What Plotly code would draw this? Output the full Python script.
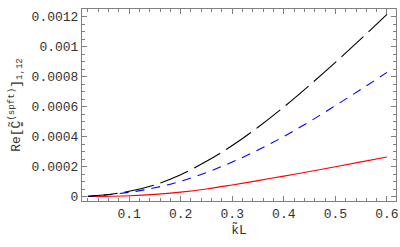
import plotly.graph_objects as go

kL = [0.02, 0.05, 0.1, 0.15, 0.2, 0.25, 0.3, 0.35, 0.4, 0.45, 0.5, 0.55, 0.6]
black_vals = [0.000002, 0.000010, 0.000035, 0.000078, 0.000145, 0.000235, 0.000340,
              0.000462, 0.000597, 0.000743, 0.000895, 0.001053, 0.001215]
blue_vals = [0.000002, 0.000009, 0.000028, 0.000058, 0.000102, 0.000160, 0.000230,
             0.000310, 0.000400, 0.000500, 0.000607, 0.000716, 0.000828]
red_vals = [0.0, 0.000001, 0.000005, 0.000014, 0.000029, 0.000050, 0.000077,
            0.000106, 0.000136, 0.000167, 0.000199, 0.000231, 0.000264]

x_ticks = [0.1, 0.2, 0.3, 0.4, 0.5, 0.6]
x_labels = ["0.1", "0.2", "0.3", "0.4", "0.5", "0.6"]
y_ticks = [0, 0.0002, 0.0004, 0.0006, 0.0008, 0.001, 0.0012]
y_labels = ["0", "0.0002", "0.0004", "0.0006", "0.0008", "0.001", "0.0012"]

fig = go.Figure()
fig.add_trace(go.Scatter(x=kL, y=red_vals, mode="lines", line=dict(color="#ff0000", width=1.1, shape="spline")))
fig.add_trace(go.Scatter(x=kL, y=blue_vals, mode="lines", line=dict(color="#0000ff", width=1.1, dash="9px,7px", shape="spline")))
fig.add_trace(go.Scatter(x=kL, y=black_vals, mode="lines", line=dict(color="#000000", width=1.1, dash="30px,7px", shape="spline")))

mono = "Liberation Mono"
font = dict(family=mono, size=13, color="#333")
axcol = "#808080"
fig.update_layout(
    width=400, height=247,
    margin=dict(l=82, r=4, t=9, b=46, autoexpand=False),
    paper_bgcolor="white", plot_bgcolor="white",
    showlegend=False,
    font=font,
    xaxis=dict(range=[0.0087, 0.6175], tickvals=x_ticks, ticktext=x_labels,
               tickfont=font, automargin=False,
               ticks="inside", ticklen=5, tickcolor=axcol, tickwidth=1,
               showline=True, linecolor=axcol, linewidth=1, mirror="allticks",
               showgrid=False, zeroline=False,
               minor=dict(dtick=0.02, tick0=0, ticks="inside", ticklen=3, tickcolor=axcol, showgrid=False),
               title=dict(text="k\u0303L", font=font, standoff=1)),
    yaxis=dict(range=[-0.00003, 0.001251], tickvals=y_ticks, ticktext=y_labels,
               tickfont=font, automargin=False,
               ticks="inside", ticklen=5, tickcolor=axcol, tickwidth=1,
               showline=True, linecolor=axcol, linewidth=1, mirror="allticks",
               showgrid=False, zeroline=False,
               minor=dict(dtick=0.00005, tick0=0, ticks="inside", ticklen=3, tickcolor=axcol, showgrid=False),
               title=dict(text="Re[C\u0303\u0333<sup>(spft)</sup>]<sub>1,12</sub>", font=font, standoff=8)),
)
fig.write_html("out.html", config={"displayModeBar": False},
               post_script="document.body.style.margin='0';document.body.style.overflow='hidden';")
